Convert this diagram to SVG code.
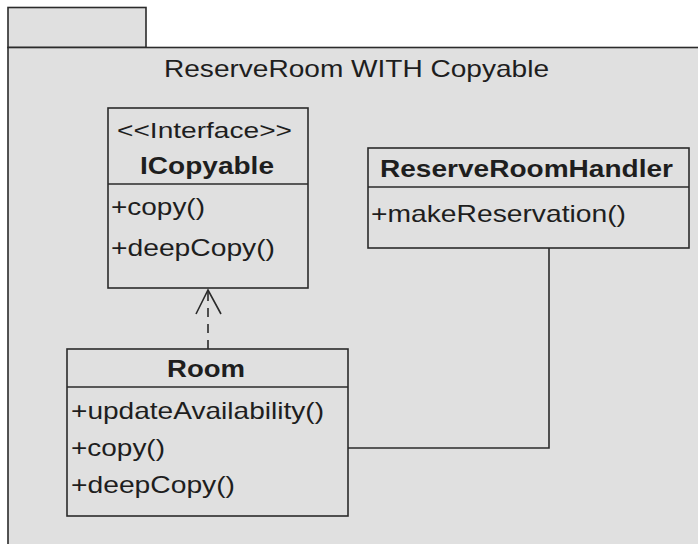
<svg xmlns="http://www.w3.org/2000/svg" width="698" height="544" viewBox="0 0 698 544">
<style>
.shape{fill:#e0e0e0;stroke:#2b2b2b;stroke-width:1.6}
.line{fill:none;stroke:#2b2b2b;stroke-width:1.6}
text{font-family:"Liberation Sans",Arial,sans-serif;font-size:24px;fill:#1e1e1e}
.b{font-weight:bold}
.s{font-size:22px}
</style>
<rect width="698" height="544" fill="#ffffff"/>
<g id="package">
<rect class="shape" x="8" y="7.5" width="138" height="40"/>
<rect class="shape" x="8" y="47.5" width="720" height="520"/>
<text x="164" y="77" textLength="385" lengthAdjust="spacingAndGlyphs">ReserveRoom WITH Copyable</text>
</g>
<g id="ICopyable">
<rect class="shape" x="108" y="108" width="200" height="180"/>
<line class="line" x1="108" y1="184" x2="308" y2="184"/>
<text class="s" x="117" y="137.5" textLength="175" lengthAdjust="spacingAndGlyphs">&lt;&lt;Interface&gt;&gt;</text>
<text class="b" x="140" y="174" textLength="134" lengthAdjust="spacingAndGlyphs">ICopyable</text>
<text x="111" y="215" textLength="94" lengthAdjust="spacingAndGlyphs">+copy()</text>
<text x="111" y="256" textLength="164" lengthAdjust="spacingAndGlyphs">+deepCopy()</text>
</g>
<g id="ReserveRoomHandler">
<rect class="shape" x="368" y="148" width="321" height="100"/>
<line class="line" x1="368" y1="187" x2="689" y2="187"/>
<text class="b" x="380" y="177" textLength="293" lengthAdjust="spacingAndGlyphs">ReserveRoomHandler</text>
<text x="371" y="222" textLength="255" lengthAdjust="spacingAndGlyphs">+makeReservation()</text>
</g>
<g id="Room">
<rect class="shape" x="67" y="349" width="281" height="167"/>
<line class="line" x1="67" y1="387" x2="348" y2="387"/>
<text class="b" x="167" y="377" textLength="78" lengthAdjust="spacingAndGlyphs">Room</text>
<text x="71" y="419" textLength="253" lengthAdjust="spacingAndGlyphs">+updateAvailability()</text>
<text x="71" y="456" textLength="94" lengthAdjust="spacingAndGlyphs">+copy()</text>
<text x="71" y="493" textLength="164" lengthAdjust="spacingAndGlyphs">+deepCopy()</text>
</g>
<g id="connectors">
<line class="line" x1="208" y1="349" x2="208" y2="291" stroke-dasharray="9,7"/>
<polyline class="line" points="196,314 208,290 221,314"/>
<polyline class="line" points="549,248 549,448 348,448"/>
</g>
</svg>
